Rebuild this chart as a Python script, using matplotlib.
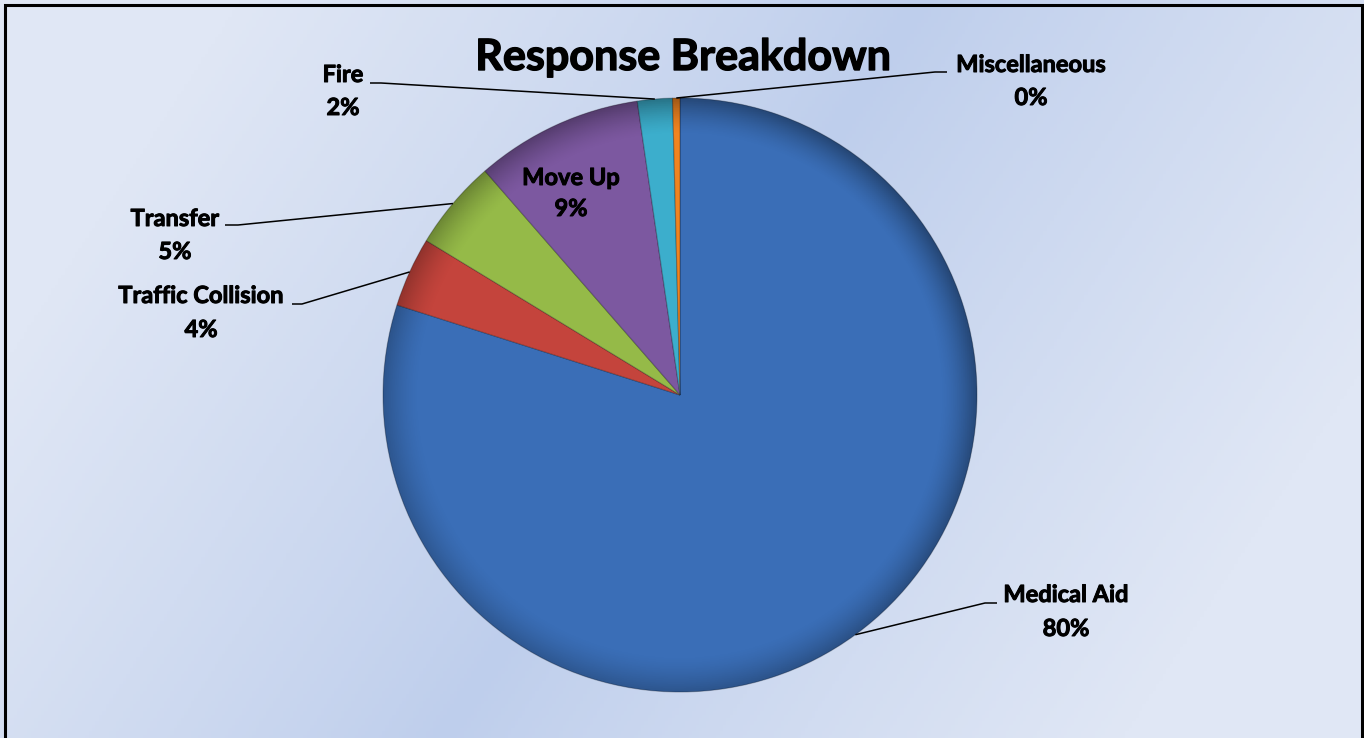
import numpy as np
import matplotlib
matplotlib.use("Agg")
import matplotlib.pyplot as plt
import matplotlib.patheffects as pe
from matplotlib.patches import Circle, Rectangle

# ---- data ----
categories = ["Medical Aid", "Traffic Collision", "Transfer", "Move Up", "Fire", "Miscellaneous"]
values = [79.9, 3.8, 4.9, 9.1, 1.9, 0.4]
colors = ["#3A6EB7", "#C4443C", "#95BA48", "#7C58A0", "#3CAECC", "#F08420"]
title = "Response Breakdown"

# ---- layout (pixel coords, y measured from top) ----
W, H = 1364, 738
cx, cy, R = 680, 395, 297
# label centre x, name baseline y, pct baseline y
label_pos = {
    "Medical Aid":       (1066, 602, 636),
    "Traffic Collision": (201, 303, 337),
    "Transfer":          (175, 226, 259),
    "Move Up":           (571, 185, 216),
    "Fire":              (343, 82, 115),
    "Miscellaneous":     (1031, 72, 105),
}
leader_elbow = {
    "Medical Aid":       [(997, 603), (985, 603)],
    "Traffic Collision": [(292, 304), (302, 304)],
    "Transfer":          [(225, 225), (238, 225)],
    "Fire":              [(370, 83), (381, 83)],
    "Miscellaneous":     [(947, 72), (935, 72)],
}

plt.rcParams['font.family'] = ['Lato', 'DejaVu Sans']

fig = plt.figure(figsize=(W / 100, H / 100), dpi=100)
ax = fig.add_axes([0, 0, 1, 1])

def Y(y):
    return H - y

# background gradient
xs = np.linspace(0, 1, 400)
ys = np.linspace(0, 1, 220)
XX, YY = np.meshgrid(xs, ys)
u = (XX - 0.5) * 2.0 + 0.35 * (YY - 0.5) * 2.0
t = np.clip(np.abs(u), 0, 1) ** 0.9
c_mid = np.array([190, 206, 236]) / 255.0
c_edge = np.array([224, 231, 245]) / 255.0
bg = c_mid[None, None, :] * (1 - t[..., None]) + c_edge[None, None, :] * t[..., None]
ax.imshow(bg, extent=(0, W, 0, H), origin="upper", zorder=0, aspect="auto")

wedges, _ = ax.pie(values, colors=colors, startangle=90, counterclock=False,
                   center=(cx, Y(cy)), radius=R,
                   wedgeprops=dict(edgecolor=(0, 0, 0, 0.25), linewidth=0.8))
for w in wedges:
    w.set_zorder(2)

# rim shading for 3D look
n = 300
gx = np.linspace(-1, 1, n)
GX, GY = np.meshgrid(gx, gx)
rr = np.sqrt(GX ** 2 + GY ** 2)
shade = np.zeros((n, n, 4))
a = np.clip((rr - 0.88) / 0.12, 0, 1) ** 1.5 * 0.28
a *= (1.0 + 0.4 * (GX - GY) / 2)
shade[..., 3] = np.clip(a, 0, 1)
im = ax.imshow(shade, extent=(cx - R, cx + R, Y(cy) - R, Y(cy) + R), origin="upper",
               zorder=3, aspect="auto")
clip = Circle((cx, Y(cy)), R, transform=ax.transData)
im.set_clip_path(clip)

heavy = [pe.withStroke(linewidth=0.7, foreground="black")]

# labels and leader lines
fs = 17
for w, name, v in zip(wedges, categories, values):
    lx, ly1, ly2 = label_pos[name]
    ax.text(lx, Y(ly1), name, ha="center", va="baseline", fontsize=fs,
            fontweight="bold", color="black", zorder=6, path_effects=heavy)
    ax.text(lx, Y(ly2), f"{round(v)}%", ha="center", va="baseline", fontsize=fs,
            fontweight="bold", color="black", zorder=6, path_effects=heavy)
    if name in leader_elbow:
        mid = np.deg2rad((w.theta1 + w.theta2) / 2)
        px = cx + R * np.cos(mid)
        py = Y(cy) + R * np.sin(mid)
        pts = [(x, Y(y)) for x, y in leader_elbow[name]] + [(px, py)]
        ax.plot([p[0] for p in pts], [p[1] for p in pts], color="black",
                lw=1.1, zorder=5, solid_capstyle="butt")

ax.text(683, Y(70), title, ha="center", va="baseline", fontsize=31,
        fontweight="bold", color="black", zorder=6,
        path_effects=[pe.withStroke(linewidth=1.0, foreground="black")])

# border
ax.add_patch(Rectangle((5, Y(760)), 1357, 755, fill=False, edgecolor="black",
                       linewidth=2.2, zorder=7))

ax.set_xlim(0, W)
ax.set_ylim(0, H)
ax.set_aspect("auto")
ax.axis("off")

fig.savefig("out.png", dpi=100)
